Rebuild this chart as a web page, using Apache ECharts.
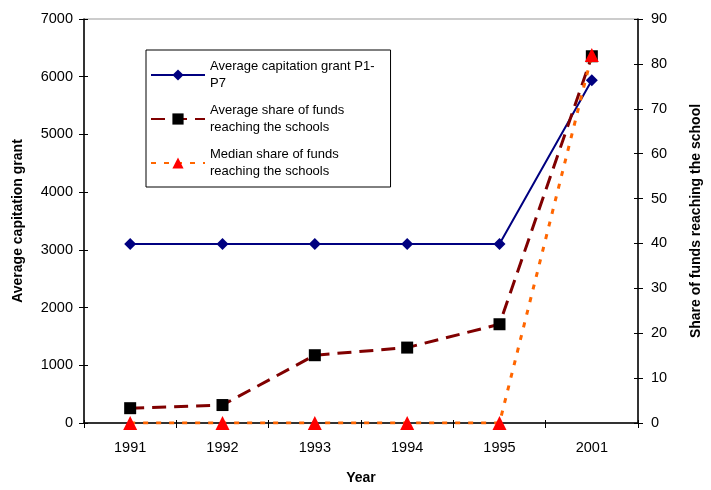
<!DOCTYPE html>
<html>
<head>
<meta charset="utf-8">
<script src="https://cdn.jsdelivr.net/npm/echarts@6/dist/echarts.min.js"></script>
<style>
  html, body { margin: 0; padding: 0; background: #fff; }
  #chart { width: 711px; height: 490px; }
</style>
</head>
<body>
<div id="chart"></div>
<script>
// Capitation grants and share of funds reaching schools, by year
const years = ['1991', '1992', '1993', '1994', '1995', '2001'];
const avgGrant = [3100, 3100, 3100, 3100, 3100, 5940];
const avgShare = [3.3, 4.0, 15.1, 16.8, 22.0, 81.7];
const medianShare = [0, 0, 0, 0, 0, 82];
const leftTicks = [0, 7000, 1000];
const rightTicks = [0, 90, 10];

const font = 'Liberation Sans, Arial, sans-serif';
const chart = echarts.init(document.getElementById('chart'), null, { renderer: 'canvas' });

const labelStyle = { fontFamily: font, fontSize: 14.5, color: '#000' };
const titleStyle = { fontFamily: font, fontSize: 14, fontWeight: 'bold', color: '#000' };

// Companion axes that only draw the inner half of each tick, so ticks cross the axis line
function innerY(range, pos) {
  return {
    type: 'value', min: range[0], max: range[1], interval: range[2], position: pos,
    axisLine: { show: false }, axisLabel: { show: false }, splitLine: { show: false },
    axisTick: { show: true, inside: true, length: 4, lineStyle: { color: '#000' } }
  };
}

chart.setOption({
  animation: false,
  backgroundColor: '#fff',
  textStyle: { fontFamily: font },
  grid: { left: 84, right: 58, top: 19, bottom: 64, containLabel: false,
          show: true, borderColor: '#999', borderWidth: 1 },
  legend: {
    orient: 'vertical',
    left: 146, top: 50,
    padding: [8, 16, 7, 4],
    borderColor: '#000', borderWidth: 1,
    itemWidth: 54, itemHeight: 14, itemGap: 10,
    textStyle: { fontFamily: font, fontSize: 13, color: '#000', lineHeight: 17 },
    formatter: function (name) {
      return {
        'grant': 'Average capitation grant P1-\nP7',
        'avg': 'Average share of funds\nreaching the schools',
        'med': 'Median share of funds\nreaching the schools'
      }[name];
    },
    data: ['grant', 'avg', 'med']
  },
  xAxis: [
    {
      type: 'category', data: years, boundaryGap: true,
      name: 'Year', nameLocation: 'middle', nameGap: 48,
      nameTextStyle: titleStyle,
      axisLine: { lineStyle: { color: '#000', width: 1.5 } },
      axisTick: { show: true, length: 5, lineStyle: { color: '#000' } },
      axisLabel: Object.assign({ margin: 17 }, labelStyle),
      splitLine: { show: false }
    },
    {
      type: 'category', data: years, boundaryGap: true, position: 'bottom',
      axisLine: { show: false }, axisLabel: { show: false }, splitLine: { show: false },
      axisTick: { show: true, inside: true, length: 3, lineStyle: { color: '#000' } }
    }
  ],
  yAxis: [
    {
      type: 'value', min: leftTicks[0], max: leftTicks[1], interval: leftTicks[2],
      position: 'left',
      name: 'Average capitation grant', nameLocation: 'middle', nameGap: 59, nameRotate: 90,
      nameTextStyle: titleStyle,
      axisLine: { show: true, lineStyle: { color: '#000', width: 1.5 } },
      axisTick: { show: true, length: 5, lineStyle: { color: '#000' } },
      axisLabel: Object.assign({ margin: 11, formatter: v => String(v) }, labelStyle),
      splitLine: { show: false }
    },
    {
      type: 'value', min: rightTicks[0], max: rightTicks[1], interval: rightTicks[2],
      position: 'right',
      name: 'Share of funds reaching the school', nameLocation: 'middle', nameGap: 51, nameRotate: 90,
      nameTextStyle: titleStyle,
      axisLine: { show: true, lineStyle: { color: '#000', width: 1.5 } },
      axisTick: { show: true, length: 5, lineStyle: { color: '#000' } },
      axisLabel: Object.assign({ margin: 13, formatter: v => String(v) }, labelStyle),
      splitLine: { show: false }
    },
    innerY(leftTicks, 'left'),
    innerY(rightTicks, 'right')
  ],
  series: [
    {
      name: 'grant', type: 'line', yAxisIndex: 0, data: avgGrant,
      symbol: 'diamond', symbolSize: 12,
      lineStyle: { color: '#000080', width: 2 },
      itemStyle: { color: '#000080' }
    },
    {
      name: 'avg', type: 'line', yAxisIndex: 1, data: avgShare,
      symbol: 'rect', symbolSize: 12,
      lineStyle: { color: '#800000', width: 3, type: [14, 8] },
      itemStyle: { color: '#000' }
    },
    {
      name: 'med', type: 'line', yAxisIndex: 1, data: medianShare,
      symbol: 'triangle', symbolSize: 14, z: 5,
      lineStyle: { color: '#FF6600', width: 3, type: [5, 8] },
      itemStyle: { color: '#FF0000' }
    }
  ]
});
</script>
</body>
</html>
